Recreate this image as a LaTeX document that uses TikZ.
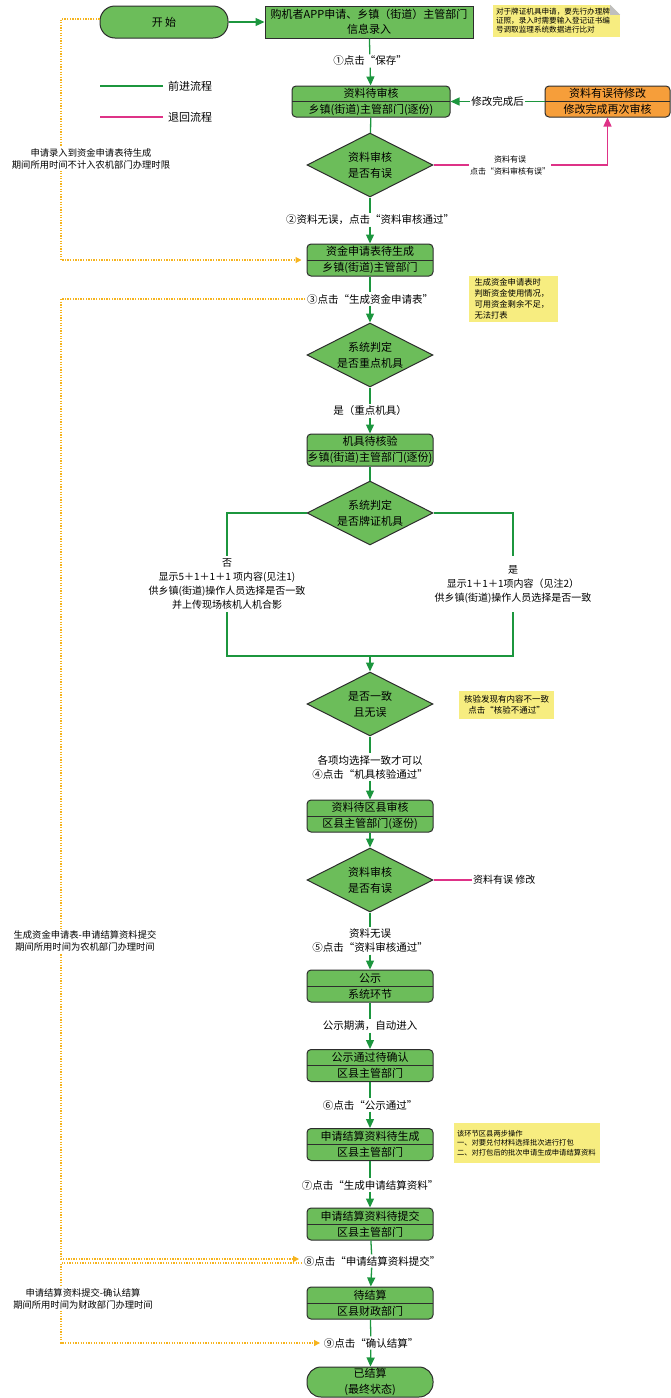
\documentclass[tikz,border=0pt]{standalone}
\usepackage{fontspec}
\setmainfont{Noto Sans CJK SC}
\usetikzlibrary{shapes.geometric,arrows.meta}

\definecolor{boxgreen}{RGB}{108,189,90}
\definecolor{flowgreen}{RGB}{28,150,62}
\definecolor{backpink}{RGB}{222,50,135}
\definecolor{fixorange}{RGB}{246,158,58}
\definecolor{noteyellow}{RGB}{247,237,128}
\definecolor{waitorange}{RGB}{246,180,30}
\definecolor{edgegray}{RGB}{45,45,45}

\tikzset{
	boxfont/.style={font=\fontsize{11}{16}\selectfont},
	% two-part state box with a divider
	stagebox/.style={draw=edgegray, line width=1pt, fill=boxgreen, rounded corners=4pt,
		minimum width=126pt, minimum height=32pt, inner sep=0pt, align=center, boxfont,
		path picture={\draw[edgegray, line width=0.9pt] (path picture bounding box.west) -- (path picture bounding box.east);}},
	startstop/.style={draw=edgegray, line width=1pt, fill=boxgreen, rounded corners=15pt,
		minimum height=32pt, inner sep=0pt, align=center, boxfont},
	inputbox/.style={draw=edgegray, line width=1pt, fill=boxgreen, minimum width=208pt,
		minimum height=32pt, inner sep=0pt, align=center, font=\fontsize{11}{15}\selectfont},
	judge/.style={diamond, draw=edgegray, line width=1pt, fill=boxgreen, minimum width=126pt,
		minimum height=64pt, aspect=2, inner sep=0pt, align=center, boxfont},
	flowline/.style={draw=flowgreen, line width=1.3pt},
	flow/.style={flowline, -{Triangle[length=9pt,width=8pt]}},
	backline/.style={draw=backpink, line width=1.3pt},
	backflow/.style={backline, -{Triangle[length=9pt,width=8pt]}},
	waitline/.style={draw=waitorange, line width=1.1pt, dash pattern=on 1.3pt off 1.3pt,
		-{Triangle[length=6pt,width=6pt]}},
	steplabel/.style={fill=white, inner sep=1.5pt, align=center, font=\fontsize{10.5}{14}\selectfont},
	branchlabel/.style={fill=white, inner sep=0pt, minimum height=56pt, align=center,
		font=\fontsize{10}{14}\selectfont},
	smalllabel/.style={fill=white, inner sep=1pt, align=center, font=\fontsize{8}{12}\selectfont},
	timenote/.style={fill=white, inner sep=1pt, align=center, font=\fontsize{9.3}{12.5}\selectfont},
	notebox/.style={fill=noteyellow, inner ysep=0pt, align=left}
}

\begin{document}
\begin{tikzpicture}[x=1pt, y=-1pt]

	\useasboundingbox (0,0) rectangle (671,1398);

	% main column
	\def\colX{370}

	\node[startstop, minimum width=128pt] (start) at (164,22) {开\ 始};
	\node[inputbox] (apply) at (369,22) {购机者APP申请、乡镇（街道）主管部门\\信息录入};
	\node[steplabel] (lbl1) at (\colX,61) {①点击“保存”};
	\node[stagebox, minimum width=158pt, minimum height=31pt] (check1) at (371,101.5) {资料待审核\\乡镇(街道)主管部门(逐份)};
	\node[stagebox, fill=fixorange, minimum width=125pt, minimum height=31pt] (fix) at (607.5,101.5) {资料有误待修改\\修改完成再次审核};
	\node[judge] (verify1) at (\colX,165) {资料审核\\是否有误};
	\node[steplabel] (lbl2) at (\colX,220) {②资料无误，点击“资料审核通过”};
	\node[stagebox] (fund) at (\colX,260) {资金申请表待生成\\乡镇(街道)主管部门};
	\node[steplabel] (lbl3) at (\colX,299) {③点击“生成资金申请表”};
	\node[judge] (keymach) at (\colX,355) {系统判定\\是否重点机具};
	\node[steplabel] (lbl3b) at (\colX,411) {是（重点机具）};
	\node[stagebox] (inspect) at (\colX,450) {机具待核验\\乡镇(街道)主管部门(逐份)};
	\node[judge] (plate) at (\colX,513) {系统判定\\是否牌证机具};
	\node[branchlabel] (nobranch) at (227,584) {否\\显示5＋1＋1＋1 项内容(见注1)\\供乡镇(街道)操作人员选择是否一致\\并上传现场核机人机合影};
	\node[branchlabel] (yesbranch) at (513,584) {是\\显示1＋1＋1项内容（见注2）\\供乡镇(街道)操作人员选择是否一致};
	\coordinate (merge) at (\colX,656);
	\node[judge] (consistent) at (\colX,704) {是否一致\\且无误};
	\node[steplabel] (lbl4) at (\colX,767) {各项均选择一致才可以\\④点击“机具核验通过”};
	\node[stagebox] (county) at (\colX,816) {资料待区县审核\\区县主管部门(逐份)};
	\node[judge] (verify2) at (\colX,880) {资料审核\\是否有误};
	\node[anchor=west, inner sep=1pt, font=\fontsize{10}{12}\selectfont] (redo) at (472,880) {资料有误 修改};
	\node[steplabel] (lbl5) at (\colX,941) {资料无误\\⑤点击“资料审核通过”};
	\node[stagebox] (publicity) at (\colX,986) {公示\\系统环节};
	\node[steplabel] (lbl5b) at (\colX,1026) {公示期满，自动进入};
	\node[stagebox] (confirm) at (\colX,1065.5) {公示通过待确认\\区县主管部门};
	\node[steplabel] (lbl6) at (\colX,1105) {⑥点击“公示通过”};
	\node[stagebox] (gensettle) at (\colX,1144.5) {申请结算资料待生成\\区县主管部门};
	\node[steplabel] (lbl7) at (\colX,1185) {⑦点击“生成申请结算资料”};
	\node[stagebox] (submit) at (\colX,1224) {申请结算资料待提交\\区县主管部门};
	\node[steplabel] (lbl8) at (372,1261) {⑧点击“申请结算资料提交”};
	\node[stagebox] (settle) at (\colX,1303) {待结算\\区县财政部门};
	\node[steplabel] (lbl9) at (371,1343) {⑨点击“确认结算”};
	\node[startstop, minimum width=126pt, minimum height=30pt, rounded corners=14pt] (done) at (\colX,1382) {已结算\\(最终状态)};

	% forward flow
	\draw[flow] (start) -- (apply);
	\draw[flowline] (apply) -- (lbl1);
	\draw[flow] (lbl1) -- (check1);
	\draw[flowline] (check1) -- (verify1);
	\draw[flowline] (verify1) -- (lbl2);
	\draw[flow] (lbl2) -- (fund);
	\draw[flowline] (fund) -- (lbl3);
	\draw[flow] (lbl3) -- (keymach);
	\draw[flowline] (keymach) -- (lbl3b);
	\draw[flow] (lbl3b) -- (inspect);
	\draw[flowline] (inspect) -- (plate);
	\draw[flowline] (plate.west) -| (nobranch.north);
	\draw[flowline] (nobranch.south) |- (merge);
	\draw[flowline] (plate.east) -| (yesbranch.north);
	\draw[flowline] (yesbranch.south) |- (merge);
	\draw[flow] (merge) -- (consistent);
	\draw[flowline] (consistent) -- (lbl4);
	\draw[flow] (lbl4) -- (county);
	\draw[flow] (county) -- (verify2);
	\draw[flowline] (verify2) -- (lbl5);
	\draw[flow] (lbl5) -- (publicity);
	\draw[flowline] (publicity) -- (lbl5b);
	\draw[flow] (lbl5b) -- (confirm);
	\draw[flowline] (confirm) -- (lbl6);
	\draw[flow] (lbl6) -- (gensettle);
	\draw[flowline] (gensettle) -- (lbl7);
	\draw[flow] (lbl7) -- (submit);
	\draw[flowline] (submit) -- (lbl8);
	\draw[flow] (lbl8) -- (settle);
	\draw[flowline] (settle) -- (lbl9);
	\draw[flow] (lbl9) -- (done);
	\draw[flow] (fix.west) -- (check1.east) node[midway, steplabel, inner sep=1pt] {修改完成后};

	% return flow
	\draw[backflow] (verify1.east) -| (fix.south) node[pos=0.22, smalllabel] {资料有误\\点击“资料审核有误”};
	\draw[backline] (verify2.east) -- (redo.west);

	% legend
	\node[anchor=west, inner sep=0pt, font=\fontsize{11}{13}\selectfont] (lgdfwd) at (168,86) {前进流程};
	\node[anchor=west, inner sep=0pt, font=\fontsize{11}{13}\selectfont] (lgdback) at (168,117) {退回流程};
	\draw[flowgreen, line width=1.3pt] ([xshift=-5pt]lgdfwd.west) -- ++(-63,0);
	\draw[backpink, line width=1.3pt] ([xshift=-5pt]lgdback.west) -- ++(-63,0);

	% waiting periods on the left
	\coordinate (rail) at (61,0);
	\coordinate (b1start) at ([yshift=3pt]start.west);
	\coordinate (b2end) at ([yshift=2pt]lbl8.west);
	\coordinate (b3start) at ([yshift=-2pt]lbl8.west);
	\draw[waitline, shorten >=5pt] (b1start) -- (b1start -| rail) |- (fund.west);
	\draw[waitline, shorten >=3pt] (lbl3.west) -- (lbl3.west -| rail) |- (b2end);
	\draw[waitline, shorten >=2pt] (b3start) -- (b3start -| rail) |- (lbl9.west);

	\node[timenote] (period1) at (91,159) {申请录入到资金申请表待生成\\期间所用时间不计入农机部门办理时限};
	\node[timenote] (period2) at (85,941) {生成资金申请表-申请结算资料提交\\期间所用时间为农机部门办理时间};
	\node[timenote] (period3) at (83,1299) {申请结算资料提交-确认结算\\期间所用时间为财政部门办理时间};

	% yellow notes
	\node[notebox, inner xsep=3pt, text width=121pt, minimum height=32pt, font=\fontsize{7.6}{9}\selectfont] (note1) at (556.5,21)
		{对于牌证机具申请，要先行办理牌\\证照，录入时需要输入登记证书编\\号调取监理系统数据进行比对};
	\fill[white] (note1.north east) -- ++(-10,0) -- ++(10,10) -- cycle;
	\fill[black!25] ([xshift=-10pt]note1.north east) -- ++(0,10) -- ++(10,0) -- cycle;

	\node[notebox, inner xsep=5.5pt, text width=78pt, minimum height=46pt, font=\fontsize{8.3}{11}\selectfont] (note2) at (513.5,299)
		{生成资金申请表时\\判断资金使用情况，\\可用资金剩余不足，\\无法打表};
	\node[notebox, align=center, inner xsep=2pt, minimum width=95pt, minimum height=28pt, font=\fontsize{8.5}{11}\selectfont] (note3) at (506.5,705)
		{核验发现有内容不一致\\点击“核验不通过”};
	\node[notebox, inner xsep=3pt, text width=140pt, minimum height=40pt, font=\fontsize{7.3}{9.5}\selectfont] (note4) at (527,1143)
		{该环节区县两步操作\\一、对要兑付材料选择批次进行打包\\二、对打包后的批次申请生成申请结算资料};

\end{tikzpicture}
\end{document}
